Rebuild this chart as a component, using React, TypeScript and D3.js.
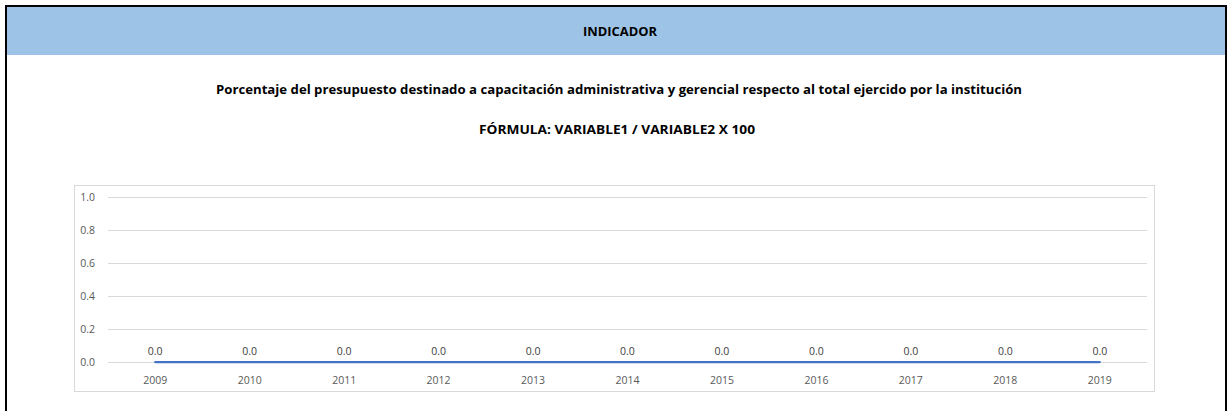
import React, { useEffect, useRef } from 'react';
import * as d3 from 'd3';

const years = ['2009', '2010', '2011', '2012', '2013', '2014', '2015', '2016', '2017', '2018', '2019'];
const values = [0, 0, 0, 0, 0, 0, 0, 0, 0, 0, 0];
const yTicks = [0, 0.2, 0.4, 0.6, 0.8, 1.0];

const header = 'INDICADOR';
const title = 'Porcentaje del presupuesto destinado a capacitación administrativa y gerencial respecto al total ejercido por la institución';
const formula = 'FÓRMULA: VARIABLE1 / VARIABLE2 X 100';

export default function App() {
  const svgRef = useRef<SVGSVGElement>(null);

  useEffect(() => {
    if (!svgRef.current) return;
    const width = 1230;
    const height = 411;
    const font = '"Open Sans", sans-serif';

    const svg = d3.select(svgRef.current);
    svg.selectAll('*').remove();
    svg.attr('width', width).attr('height', height);

    svg.append('rect').attr('width', width).attr('height', height).attr('fill', '#ffffff');

    // cabecera azul
    svg.append('rect')
      .attr('x', 6).attr('y', 6).attr('width', 1220).attr('height', 49)
      .attr('fill', '#9dc3e6');

    // marco negro
    svg.append('path')
      .attr('d', `M6,${height} V6 H1226 V${height}`)
      .attr('fill', 'none')
      .attr('stroke', '#000')
      .attr('stroke-width', 2);

    svg.append('text')
      .attr('x', 620).attr('y', 31)
      .attr('text-anchor', 'middle').attr('dominant-baseline', 'central')
      .attr('font-family', font).attr('font-weight', 'bold').attr('font-size', '12px')
      .attr('textLength', 74).attr('lengthAdjust', 'spacingAndGlyphs')
      .attr('fill', '#000')
      .text(header);

    svg.append('text')
      .attr('x', 619).attr('y', 89)
      .attr('text-anchor', 'middle').attr('dominant-baseline', 'central')
      .attr('font-family', font).attr('font-weight', 'bold').attr('font-size', '12.5px')
      .attr('textLength', 806).attr('lengthAdjust', 'spacingAndGlyphs')
      .attr('fill', '#000')
      .text(title);

    svg.append('text')
      .attr('x', 617).attr('y', 129)
      .attr('text-anchor', 'middle').attr('dominant-baseline', 'central')
      .attr('font-family', font).attr('font-weight', 'bold').attr('font-size', '12.5px')
      .attr('textLength', 276).attr('lengthAdjust', 'spacingAndGlyphs')
      .attr('fill', '#000')
      .text(formula);

    // área del gráfico
    svg.append('rect')
      .attr('x', 74.5).attr('y', 185.5).attr('width', 1080).attr('height', 206)
      .attr('fill', '#fff').attr('stroke', '#d9d9d9').attr('stroke-width', 1);

    const x = d3.scaleBand<string>().domain(years).range([108, 1147]);
    const y = d3.scaleLinear().domain([0, 1]).range([362, 197]);

    const g = svg.append('g');

    g.selectAll('line.grid')
      .data(yTicks)
      .enter()
      .append('line')
      .attr('class', 'grid')
      .attr('x1', 108).attr('x2', 1147)
      .attr('y1', d => Math.round(y(d)) + 0.5).attr('y2', d => Math.round(y(d)) + 0.5)
      .attr('stroke', '#d9d9d9').attr('stroke-width', 1);

    g.selectAll('text.ytick')
      .data(yTicks)
      .enter()
      .append('text')
      .attr('class', 'ytick')
      .attr('x', 95).attr('y', d => y(d))
      .attr('text-anchor', 'end').attr('dominant-baseline', 'central')
      .attr('font-family', font).attr('font-size', '10.5px')
      .attr('fill', '#595959')
      .text(d => d.toFixed(1));

    g.selectAll('text.xtick')
      .data(years)
      .enter()
      .append('text')
      .attr('class', 'xtick')
      .attr('x', d => (x(d) || 0) + x.bandwidth() / 2).attr('y', 380)
      .attr('text-anchor', 'middle').attr('dominant-baseline', 'central')
      .attr('font-family', font).attr('font-size', '10.5px')
      .attr('fill', '#595959')
      .text(d => d);

    const line = d3.line<number>()
      .x((_, i) => (x(years[i]) || 0) + x.bandwidth() / 2)
      .y(d => y(d));

    g.append('path')
      .datum(values)
      .attr('d', line)
      .attr('fill', 'none')
      .attr('stroke', '#4472c4')
      .attr('stroke-width', 2.25)
      .attr('stroke-linecap', 'round');

    g.selectAll('text.label')
      .data(values)
      .enter()
      .append('text')
      .attr('class', 'label')
      .attr('x', (_, i) => (x(years[i]) || 0) + x.bandwidth() / 2)
      .attr('y', d => y(d) - 11)
      .attr('text-anchor', 'middle').attr('dominant-baseline', 'central')
      .attr('font-family', font).attr('font-size', '10.5px')
      .attr('fill', '#404040')
      .text(d => d.toFixed(1));
  }, []);

  return (
    <div style={{ position: 'fixed', left: 0, top: 0 }}>
      <svg ref={svgRef} style={{ display: 'block' }}></svg>
    </div>
  );
}
